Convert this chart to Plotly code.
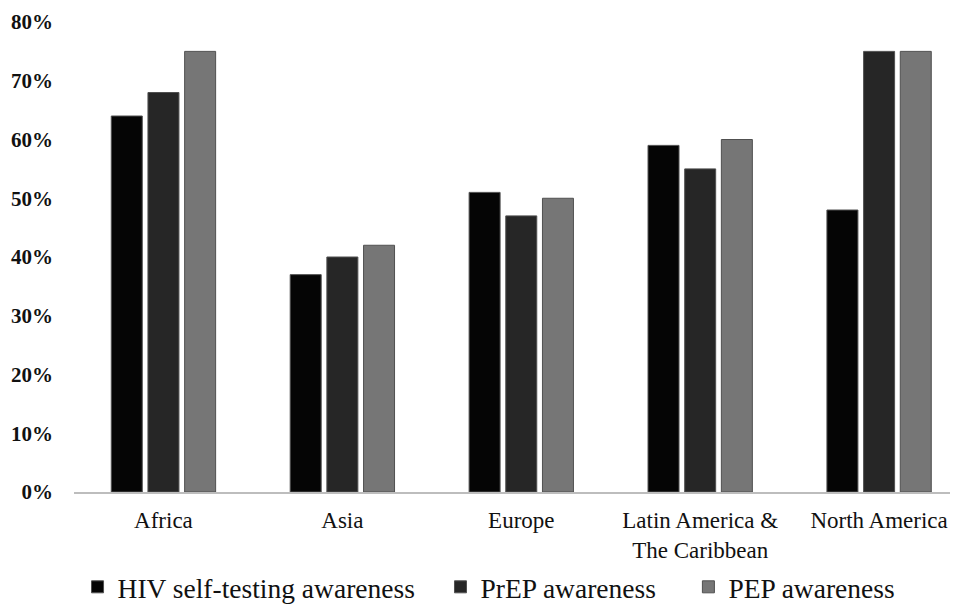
import plotly.graph_objects as go

categories = ["Africa", "Asia", "Europe", "Latin America &<br>The Caribbean", "North America"]
hiv_selftest = [0.64, 0.37, 0.51, 0.59, 0.48]
prep = [0.68, 0.40, 0.47, 0.55, 0.75]
pep = [0.75, 0.42, 0.50, 0.60, 0.75]
series_names = ["HIV self-testing awareness", "PrEP awareness", "PEP awareness"]
legend_pad = ["\u00a0" * 3, "\u00a0" * 4, ""]
colors = ["#050505", "#262626", "#767676"]
y_ticks = [0, 0.1, 0.2, 0.3, 0.4, 0.5, 0.6, 0.7, 0.8]
y_labels = ["<b>%d%%</b>" % round(v * 100) for v in y_ticks]

fig = go.Figure()
for name, pad, vals, col in zip(series_names, legend_pad, [hiv_selftest, prep, pep], colors):
    fig.add_trace(go.Bar(
        x=categories, y=vals, name=name + pad,
        marker=dict(color=col, line=dict(color="#505050", width=1)),
    ))

font_family = "Liberation Serif"
# the page body has an 8px default margin, so the figure is drawn 8px smaller
fig.update_layout(
    width=950, height=599,
    paper_bgcolor="white", plot_bgcolor="white",
    margin=dict(l=66, r=0, t=14, b=115, autoexpand=False),
    barmode="group", bargap=0.385, bargroupgap=0.155,
    font=dict(family=font_family, color="#111111", size=23),
    showlegend=True,
    legend=dict(
        orientation="h", x=0.004, xanchor="left", y=-0.202, yanchor="middle",
        font=dict(family=font_family, size=27.5, color="#111111"),
        traceorder="normal", bgcolor="rgba(0,0,0,0)",
    ),
)
fig.update_xaxes(
    range=[-0.5, 4.441], showline=True, linecolor="#bdbdbd", linewidth=2,
    showgrid=False, ticks="", automargin=False, ticklabelstandoff=6,
    tickfont=dict(size=23, family=font_family, color="#111111"),
)
fig.update_yaxes(
    range=[0, 0.8], tickvals=y_ticks, ticktext=y_labels, showgrid=False,
    zeroline=False, showline=False, ticks="", ticklabelstandoff=20, automargin=False,
    tickfont=dict(size=21, family=font_family, color="#111111"),
)
fig.write_html("out.html")
